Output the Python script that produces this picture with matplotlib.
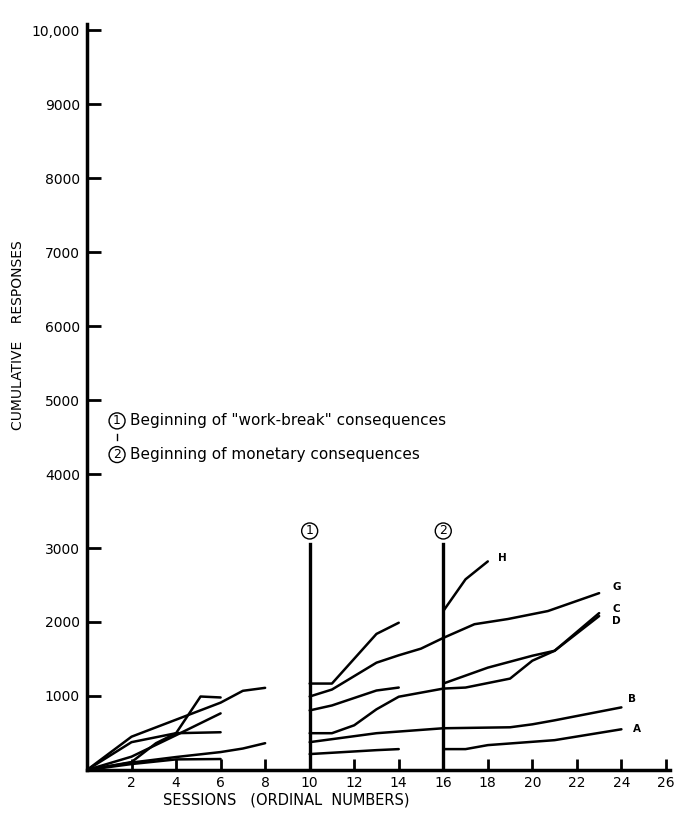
import matplotlib
matplotlib.use('Agg')
import matplotlib.pyplot as plt

# phase 1: sessions 0-8
p1_sessions_a = [0, 2, 4, 6, 7, 8]
p1_values_a = [0, 450, 680, 910, 1070, 1110]
p1_sessions_b = [0, 2, 4, 6]
p1_values_b = [0, 376, 497, 510]
p1_sessions_c = [0, 2, 3.1, 4, 5.1, 6]
p1_values_c = [0, 107, 362, 497, 993, 980]
p1_sessions_d = [0, 2, 4, 6]
p1_values_d = [0, 180, 470, 765]
p1_sessions_e = [0, 2, 4, 6, 7, 8]
p1_values_e = [0, 100, 175, 242, 290, 362]
p1_sessions_f = [0, 2, 4, 6]
p1_values_f = [0, 80, 143, 148]

# phase 2 / 3: sessions 10-24
p2_sessions_a = [10, 11, 13, 14]
p2_values_a = [1168, 1168, 1839, 1990]
p2_sessions_c = [10, 11, 13, 14]
p2_values_c = [805, 872, 1074, 1114]
p2_sessions_f = [10, 13, 14]
p2_values_f = [215, 268, 282]

g_sessions = [10, 11, 13, 14, 15, 16, 17.4, 18.9, 20.7, 23]
g_values = [993, 1087, 1450, 1550, 1640, 1785, 1970, 2040, 2148, 2390]
d_sessions = [10, 11, 12, 13, 14, 16, 17, 19, 20, 21, 23]
d_values = [497, 497, 604, 820, 990, 1100, 1114, 1235, 1477, 1611, 2080]
b_sessions = [10, 13, 16, 19, 20, 21, 24]
b_values = [376, 497, 564, 577, 617, 671, 846]
h_sessions = [16, 17, 18]
h_values = [2148, 2577, 2819]
c_sessions = [16, 18, 20, 21, 23]
c_values = [1168, 1383, 1544, 1611, 2120]
a_sessions = [16, 17, 18, 21, 24]
a_values = [282, 282, 336, 403, 550]

curve_labels = ['G', 'C', 'D', 'B', 'A', 'H']
label_sessions = [23.6, 23.6, 23.6, 24.3, 24.5, 18.45]
label_values = [2467, 2172, 2011, 965, 550, 2865]

markers = ['1', '2']
marker_sessions = [10, 16]
marker_top = 3060

y_ticks = [1000, 2000, 3000, 4000, 5000, 6000, 7000, 8000, 9000, 10000]
y_ticklabels = ['1000', '2000', '3000', '4000', '5000', '6000', '7000', '8000', '9000', '10,000']
x_ticks = [2, 4, 6, 8, 10, 12, 14, 16, 18, 20, 22, 24, 26]

fig = plt.figure(figsize=(6.76, 8.16), dpi=100)
ax = fig.add_axes([0.1287, 0.0564, 0.863, 0.914])

lw = 1.8
segments = [
    (p1_sessions_a, p1_values_a), (p1_sessions_b, p1_values_b), (p1_sessions_c, p1_values_c),
    (p1_sessions_d, p1_values_d), (p1_sessions_e, p1_values_e), (p1_sessions_f, p1_values_f),
    (p2_sessions_a, p2_values_a), (p2_sessions_c, p2_values_c), (p2_sessions_f, p2_values_f),
    (g_sessions, g_values), (d_sessions, d_values), (b_sessions, b_values),
    (h_sessions, h_values), (c_sessions, c_values), (a_sessions, a_values),
]
for xs, ys in segments:
    ax.plot(xs, ys, color='black', lw=lw, solid_joinstyle='round', solid_capstyle='round')

for lab, xs, ys in zip(curve_labels, label_sessions, label_values):
    ax.text(xs, ys, lab, fontsize=7.5, fontweight='bold', ha='left', va='center')

# vertical markers for condition changes
for m, xs in zip(markers, marker_sessions):
    ax.plot([xs, xs], [0, marker_top], color='black', lw=2.4)
    ax.text(xs, marker_top + 170, m, fontsize=9, ha='center', va='center',
            bbox=dict(boxstyle='circle,pad=0.12', fc='white', ec='black', lw=1))

# legend notes
ax.text(1.35, 4718, '1', fontsize=9, ha='center', va='center',
        bbox=dict(boxstyle='circle,pad=0.12', fc='white', ec='black', lw=1))
ax.plot([1.35, 1.35], [4540, 4460], color='black', lw=1)
ax.text(1.95, 4718, 'Beginning of "work-break" consequences', fontsize=11, ha='left', va='center')
ax.text(1.35, 4263, '2', fontsize=9, ha='center', va='center',
        bbox=dict(boxstyle='circle,pad=0.12', fc='white', ec='black', lw=1))
ax.text(1.95, 4263, 'Beginning of monetary consequences', fontsize=11, ha='left', va='center')

ax.set_xlim(0, 26.2)
ax.set_ylim(0, 10080)
ax.spines['top'].set_visible(False)
ax.spines['right'].set_visible(False)
ax.spines['left'].set_linewidth(2.5)
ax.spines['bottom'].set_linewidth(2.5)

ax.set_yticks(y_ticks)
ax.set_yticklabels(y_ticklabels)
ax.set_xticks(x_ticks)
ax.tick_params(axis='both', direction='in', width=2, labelsize=10)
ax.tick_params(axis='y', length=10, pad=5)
ax.tick_params(axis='x', length=8, pad=4)

fig.text(0.027, 0.589, 'CUMULATIVE    RESPONSES', rotation=90, fontsize=10,
         ha='center', va='center')
fig.text(0.423, 0.02, 'SESSIONS   (ORDINAL  NUMBERS)', fontsize=10.5, ha='center', va='center')

fig.savefig('out.png', dpi=100)
